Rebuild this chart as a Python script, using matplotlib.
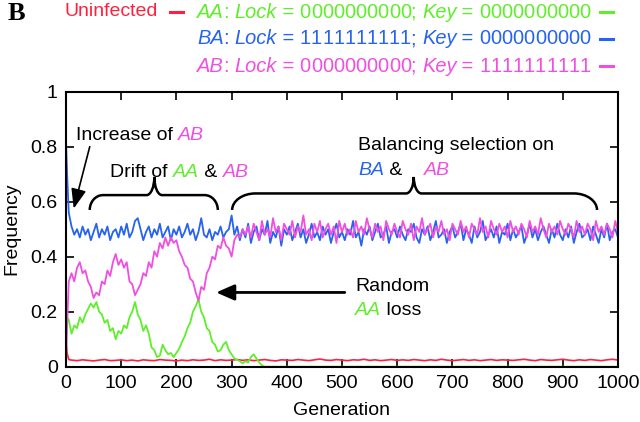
import numpy as np
import matplotlib
matplotlib.use("Agg")
import matplotlib.pyplot as plt
from matplotlib.path import Path
from matplotlib.patches import PathPatch
from matplotlib.offsetbox import TextArea, HPacker, AnnotationBbox

plt.rcParams['font.family'] = ['Liberation Sans', 'DejaVu Sans']

RED = '#ff2040'
GREEN = '#5fef2a'
BLUE = '#2563f0'
MAGENTA = '#f04fe0'

# generations sampled every 5 (plus the fast start)
gen = np.r_[0, 2, np.arange(5, 1001, 5)]

# BA: Lock = 1111111111; Key = 0000000000
freq_ba = [
    0.82, 0.70, 0.56,
    0.51, 0.48, 0.50, 0.47, 0.51, 0.48, 0.50, 0.46, 0.49, 0.52, 0.47, 0.50, 0.48, 0.51, 0.46, 0.49, 0.50, 0.47, 0.51,
    0.48, 0.52, 0.47, 0.49, 0.53, 0.54, 0.50, 0.46, 0.49, 0.51, 0.47, 0.50, 0.48, 0.52, 0.47, 0.49, 0.51, 0.46, 0.50, 0.48,
    0.51, 0.47, 0.49, 0.52, 0.48, 0.50, 0.46, 0.49, 0.54, 0.48, 0.47, 0.50, 0.46, 0.49, 0.48, 0.51, 0.47, 0.49, 0.50, 0.55,
    0.48, 0.51, 0.46, 0.50, 0.47, 0.52, 0.45, 0.49, 0.51, 0.46, 0.50, 0.48, 0.53, 0.45, 0.49, 0.47, 0.51, 0.44, 0.50, 0.48,
    0.51, 0.46, 0.49, 0.52, 0.47, 0.50, 0.45, 0.48, 0.52, 0.47, 0.49, 0.46, 0.51, 0.48, 0.50, 0.45, 0.49, 0.52, 0.47, 0.49,
    0.46, 0.50, 0.48, 0.53, 0.47, 0.49, 0.44, 0.50, 0.48, 0.51, 0.46, 0.49, 0.52, 0.47, 0.48, 0.51, 0.45, 0.49, 0.50, 0.47,
    0.51, 0.48, 0.46, 0.50, 0.49, 0.52, 0.47, 0.45, 0.50, 0.48, 0.51, 0.46, 0.49, 0.53, 0.47, 0.48, 0.50, 0.45, 0.49, 0.51,
    0.47, 0.49, 0.52, 0.46, 0.50, 0.48, 0.45, 0.51, 0.47, 0.49, 0.53, 0.46, 0.48, 0.50, 0.47, 0.51, 0.45, 0.49, 0.48, 0.52,
    0.46, 0.50, 0.47, 0.49, 0.51, 0.45, 0.48, 0.52, 0.47, 0.50, 0.46, 0.49, 0.51, 0.48, 0.45, 0.50, 0.47, 0.52, 0.48, 0.46,
    0.50, 0.47, 0.51, 0.45, 0.49, 0.52, 0.47, 0.48, 0.50, 0.46, 0.51, 0.48, 0.45, 0.50, 0.47, 0.52, 0.46, 0.49, 0.50, 0.47,
]

# AB: Lock = 0000000000; Key = 1111111111
freq_ab = [
    0.00, 0.15, 0.31,
    0.34, 0.31, 0.36, 0.38, 0.34, 0.35, 0.31, 0.29, 0.25, 0.27, 0.26, 0.31, 0.30, 0.35, 0.33, 0.38, 0.41, 0.37, 0.39,
    0.36, 0.38, 0.31, 0.30, 0.26, 0.28, 0.30, 0.34, 0.33, 0.38, 0.36, 0.42, 0.40, 0.45, 0.43, 0.47, 0.44, 0.47, 0.45, 0.46,
    0.42, 0.40, 0.37, 0.36, 0.32, 0.31, 0.27, 0.24, 0.29, 0.28, 0.34, 0.36, 0.40, 0.39, 0.44, 0.43, 0.47, 0.44, 0.43, 0.40,
    0.46, 0.48, 0.47, 0.50, 0.48, 0.51, 0.47, 0.52, 0.49, 0.46, 0.53, 0.48, 0.50, 0.47, 0.54, 0.49, 0.51, 0.46, 0.52, 0.50,
    0.48, 0.53, 0.47, 0.51, 0.49, 0.55, 0.48, 0.50, 0.46, 0.52, 0.49, 0.53, 0.47, 0.50, 0.52, 0.48, 0.51, 0.45, 0.53, 0.49,
    0.52, 0.48, 0.50, 0.47, 0.53, 0.49, 0.51, 0.48, 0.54, 0.50, 0.47, 0.52, 0.49, 0.51, 0.46, 0.53, 0.50, 0.48, 0.52, 0.49,
    0.47, 0.53, 0.50, 0.48, 0.52, 0.46, 0.51, 0.49, 0.54, 0.48, 0.50, 0.52, 0.47, 0.51, 0.49, 0.53, 0.48, 0.50, 0.46, 0.52,
    0.50, 0.48, 0.53, 0.49, 0.51, 0.47, 0.52, 0.50, 0.48, 0.54, 0.49, 0.51, 0.47, 0.53, 0.50, 0.48, 0.52, 0.49, 0.51, 0.47,
    0.53, 0.49, 0.51, 0.48, 0.52, 0.50, 0.47, 0.53, 0.49, 0.51, 0.48, 0.54, 0.50, 0.47, 0.52, 0.49, 0.51, 0.48, 0.53, 0.50,
    0.48, 0.52, 0.50, 0.47, 0.53, 0.49, 0.51, 0.48, 0.52, 0.50, 0.46, 0.53, 0.49, 0.51, 0.48, 0.52, 0.50, 0.47, 0.53, 0.49,
]

# AA: Lock = 0000000000; Key = 0000000000 (lost around generation 360)
gen_aa = np.r_[gen[gen <= 360], 1000]
freq_aa = [
    0.20, 0.18, 0.17,
    0.12, 0.15, 0.14, 0.18, 0.16, 0.19, 0.21, 0.23, 0.215, 0.235, 0.20, 0.19, 0.16, 0.17, 0.13, 0.14, 0.10, 0.13, 0.12,
    0.15, 0.14, 0.18, 0.20, 0.235, 0.19, 0.17, 0.13, 0.15, 0.12, 0.07, 0.06, 0.035, 0.04, 0.08, 0.06, 0.045, 0.05, 0.035, 0.05,
    0.065, 0.09, 0.11, 0.14, 0.16, 0.20, 0.22, 0.245, 0.20, 0.18, 0.14, 0.13, 0.09, 0.08, 0.055, 0.06, 0.08, 0.09, 0.06, 0.045,
    0.03, 0.025, 0.02, 0.012, 0.02, 0.015, 0.035, 0.045, 0.03, 0.015, 0.005, 0.0,
    0.0,
]

# uninfected hosts, sampled every 10 generations
gen_u = np.r_[0, 2, 5, np.arange(10, 1001, 10)]
freq_u = [
    0.09, 0.05, 0.026,
    0.024, 0.022, 0.025, 0.023, 0.021, 0.024, 0.026, 0.022, 0.023, 0.025,
    0.022, 0.024, 0.021, 0.025, 0.023, 0.022, 0.026, 0.024, 0.023, 0.021,
    0.024, 0.022, 0.025, 0.023, 0.024, 0.027, 0.022, 0.025, 0.023, 0.024,
    0.026, 0.023, 0.025, 0.022, 0.024, 0.026, 0.023, 0.021, 0.025, 0.024,
    0.023, 0.026, 0.024, 0.022, 0.025, 0.028, 0.024, 0.023, 0.026, 0.024,
    0.022, 0.025, 0.024, 0.027, 0.023, 0.025, 0.022, 0.024, 0.026, 0.023,
    0.025, 0.023, 0.026, 0.024, 0.022, 0.025, 0.023, 0.027, 0.024, 0.022,
    0.024, 0.026, 0.023, 0.025, 0.022, 0.024, 0.026, 0.023, 0.025, 0.024,
    0.023, 0.025, 0.027, 0.024, 0.022, 0.026, 0.024, 0.023, 0.025, 0.027,
    0.024, 0.022, 0.025, 0.023, 0.026, 0.024, 0.022, 0.025, 0.027, 0.024,
]

xticks = np.arange(0, 1001, 100)
yticks = [0, 0.2, 0.4, 0.6, 0.8, 1]


def rich_text(parent, xy, parts, coords='data', size=14):
    """Text made of pieces (text, colour, italic) sitting on one baseline."""
    boxes = [TextArea(s, textprops=dict(color=c, fontsize=size,
                                        fontstyle='italic' if it else 'normal'))
             for s, c, it in parts]
    pack = HPacker(children=boxes, align='baseline', pad=0, sep=0)
    ab = AnnotationBbox(pack, xy, xycoords=coords, box_alignment=(0, 0.5),
                        frameon=False, pad=0, annotation_clip=False)
    parent.add_artist(ab)


def brace(ax, x0, x1, xt, y_end, y_bar, y_tip, r_end, r_tip):
    """Curly brace opening downwards with its point up at xt."""
    k = 0.55
    verts = [
        (x0, y_end),
        (x0, y_end + k * (y_bar - y_end)), (x0 + r_end * (1 - k), y_bar), (x0 + r_end, y_bar),
        (xt - r_tip, y_bar),
        (xt - r_tip * (1 - k), y_bar), (xt, y_tip - k * (y_tip - y_bar)), (xt, y_tip),
        (xt, y_tip - k * (y_tip - y_bar)), (xt + r_tip * (1 - k), y_bar), (xt + r_tip, y_bar),
        (x1 - r_end, y_bar),
        (x1 - r_end * (1 - k), y_bar), (x1, y_end + k * (y_bar - y_end)), (x1, y_end),
    ]
    codes = ([Path.MOVETO] + [Path.CURVE4] * 3 + [Path.LINETO] + [Path.CURVE4] * 6
             + [Path.LINETO] + [Path.CURVE4] * 3)
    ax.add_patch(PathPatch(Path(verts, codes), fill=False, lw=1.8,
                           edgecolor='black', clip_on=False))


fig = plt.figure(figsize=(6.4, 4.22), dpi=100)
ax = fig.add_axes([66 / 640, 55.3 / 422, 552 / 640, 275 / 422])

ax.plot(gen_u, freq_u, color=RED, lw=1.2)
ax.plot(gen_aa, freq_aa, color=GREEN, lw=1.3)
ax.plot(gen, freq_ba, color=BLUE, lw=1.3)
ax.plot(gen, freq_ab, color=MAGENTA, lw=1.3)

ax.set_xlim(0, 1000)
ax.set_ylim(0, 1)
ax.set_xticks(xticks)
ax.set_yticks(yticks)
ax.set_yticklabels([f"{v:g}" for v in yticks])
ax.tick_params(direction='in', length=6, width=1.2, top=True, right=True,
               labelsize=14, pad=6)
for sp in ax.spines.values():
    sp.set_linewidth(1.5)

ax.set_xlabel("Generation", fontsize=14)
ax.set_ylabel("Frequency", fontsize=14)
ax.xaxis.set_label_coords(0.5, -0.13)
ax.yaxis.set_label_coords(-0.083, 0.5)

# annotations
rich_text(ax, (18, 0.84), [("Increase of ", 'black', False), ("AB", MAGENTA, True)])
ax.annotate("", xy=(14, 0.575), xytext=(43, 0.80),
            arrowprops=dict(arrowstyle='-|>,head_length=0.6,head_width=0.23',
                            mutation_scale=20, lw=1.2, color='black',
                            shrinkA=0, shrinkB=0))

rich_text(ax, (80, 0.708), [("Drift of ", 'black', False), ("AA", GREEN, True),
                            (" & ", 'black', False), ("AB", MAGENTA, True)])
brace(ax, 43, 275, 160, 0.57, 0.624, 0.69, 24, 14)

rich_text(ax, (529, 0.806), [("Balancing selection on", 'black', False)])
rich_text(ax, (529, 0.715), [("BA", BLUE, True), (" &    ", 'black', False),
                             ("AB", MAGENTA, True)])
brace(ax, 301, 962, 630, 0.57, 0.63, 0.69, 42, 14)

rich_text(ax, (524, 0.29), [("Random", 'black', False)])
rich_text(ax, (524, 0.206), [("AA", GREEN, True), (" loss", 'black', False)])
ax.annotate("", xy=(272, 0.27), xytext=(505, 0.27),
            arrowprops=dict(arrowstyle='-|>,head_length=0.55,head_width=0.24',
                            mutation_scale=20, lw=2.0, color='black',
                            shrinkA=0, shrinkB=0))

# header key above the plot
fig.text(16 / 640, 1 - 14 / 422, "B", family='Liberation Serif', weight='bold',
         fontsize=19, ha='center', va='center')

rich_text(fig, (65, 410), [("Uninfected", RED, False)], coords='figure pixels')
fig.add_artist(plt.Line2D([170 / 640, 183 / 640], [410 / 422, 410 / 422],
                          color=RED, lw=2.2))

key_rows = [
    (410, GREEN, "AA", "0000000000", "0000000000"),
    (383, BLUE, "BA", "1111111111", "0000000000"),
    (356, MAGENTA, "AB", "0000000000", "1111111111"),
]
for y, c, name, lock, key in key_rows:
    # digits one by one so the "11" kerning does not squeeze the ones
    parts = [(name, c, True), (": ", c, False), ("Lock", c, True), (" = ", c, False)]
    parts += [(d, c, False) for d in lock]
    parts += [("; ", c, False), ("Key", c, True), (" = ", c, False)]
    parts += [(d, c, False) for d in key]
    rich_text(fig, (197, y), parts, coords='figure pixels', size=14.4)
    fig.add_artist(plt.Line2D([600 / 640, 613 / 640], [y / 422, y / 422],
                              color=c, lw=2.2))

fig.savefig("out.png", dpi=100)
